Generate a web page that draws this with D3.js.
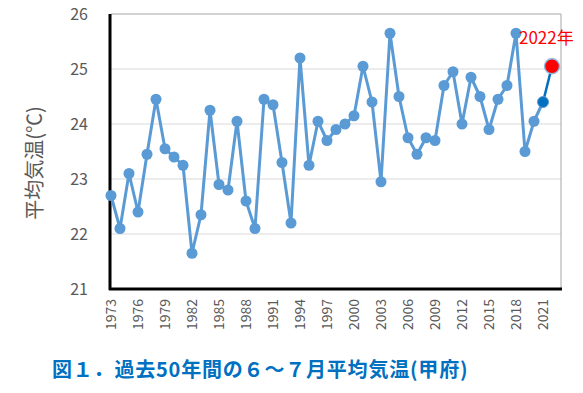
<!DOCTYPE html>
<html>
<head>
<meta charset="utf-8">
<script src="https://cdn.jsdelivr.net/npm/d3@7"></script>
<style>
  body { margin: 0; background: #fff; }
  text { font-family: "Noto Sans CJK JP", "Noto Sans", sans-serif; }
</style>
</head>
<body>
<script>
var width = 583;
var height = 393;

// 1973 - 2022, 6-7月平均気温 (甲府)
var years = d3.range(1973, 2023);
var temps = [
  22.7, 22.1, 23.1, 22.4, 23.45, 24.45, 23.55, 23.4, 23.25, 21.65,
  22.35, 24.25, 22.9, 22.8, 24.05, 22.6, 22.1, 24.45, 24.35, 23.3,
  22.2, 25.2, 23.25, 24.05, 23.7, 23.9, 24.0, 24.15, 25.05, 24.4,
  22.95, 25.65, 24.5, 23.75, 23.45, 23.75, 23.7, 24.7, 24.95, 24.0,
  24.85, 24.5, 23.9, 24.45, 24.7, 25.65, 23.5, 24.05, 24.4, 25.05
];
var tickYears = d3.range(1973, 2023, 3);
var yTicks = [21, 22, 23, 24, 25, 26];
var data = years.map(function (y, i) { return { year: y, temp: temps[i] }; });

var svg = d3.select('body')
    .append('svg')
    .attr('width', width)
    .attr('height', height);

var plotL = 111, plotR = 561, plotT = 14, plotB = 289;

var xScale = d3.scalePoint()
    .domain(d3.range(1973, 2024))
    .range([plotL, plotR]);

var yScale = d3.scaleLinear()
    .domain([21, 26])
    .range([plotB, plotT]);

// grid
svg.selectAll('.grid')
    .data(yTicks.slice(1, 5))
    .enter()
    .append('line')
    .attr('x1', plotL)
    .attr('x2', plotR)
    .attr('y1', function (d) { return yScale(d); })
    .attr('y2', function (d) { return yScale(d); })
    .attr('stroke', '#d9d9d9')
    .attr('stroke-width', 1);

// frame
svg.append('line').attr('x1', plotL).attr('x2', plotR)
    .attr('y1', plotT).attr('y2', plotT)
    .attr('stroke', '#a6a6a6').attr('stroke-width', 1);
svg.append('line').attr('x1', plotR).attr('x2', plotR)
    .attr('y1', plotT).attr('y2', plotB)
    .attr('stroke', '#a6a6a6').attr('stroke-width', 1);
svg.append('line').attr('x1', plotL - 1).attr('x2', plotL - 1)
    .attr('y1', plotT).attr('y2', plotB + 1)
    .attr('stroke', '#000').attr('stroke-width', 3);
svg.append('line').attr('x1', plotL - 2).attr('x2', plotR + 1)
    .attr('y1', plotB).attr('y2', plotB)
    .attr('stroke', '#000').attr('stroke-width', 3);

// y tick labels
svg.selectAll('.ylab')
    .data(yTicks)
    .enter()
    .append('text')
    .attr('x', 88)
    .attr('y', function (d) { return yScale(d) + 6; })
    .attr('text-anchor', 'end')
    .attr('font-size', 16)
    .attr('fill', '#595959')
    .text(function (d) { return d; });

// x tick labels
svg.selectAll('.xlab')
    .data(tickYears)
    .enter()
    .append('text')
    .attr('transform', function (d) {
        return 'translate(' + (xScale(d) + 5) + ',' + 299 + ') rotate(-90)';
    })
    .attr('text-anchor', 'end')
    .attr('font-size', 14)
    .attr('fill', '#595959')
    .text(function (d) { return d; });

// y axis title
svg.append('text')
    .attr('transform', 'translate(42,163) rotate(-90)')
    .attr('text-anchor', 'middle')
    .attr('font-size', 20)
    .attr('fill', '#595959')
    .text('平均気温(℃)');

var line = d3.line()
    .x(function (d) { return xScale(d.year); })
    .y(function (d) { return yScale(d.temp); });

svg.append('path')
    .datum(data.slice(0, 49))
    .attr('d', line)
    .attr('fill', 'none')
    .attr('stroke', '#5b9bd5')
    .attr('stroke-width', 3)
    .attr('stroke-linejoin', 'round');

svg.append('path')
    .datum(data.slice(48))
    .attr('d', line)
    .attr('fill', 'none')
    .attr('stroke', '#0070c0')
    .attr('stroke-width', 2.5);

svg.selectAll('.pt')
    .data(data.slice(0, 48))
    .enter()
    .append('circle')
    .attr('cx', function (d) { return xScale(d.year); })
    .attr('cy', function (d) { return yScale(d.temp); })
    .attr('r', 5.5)
    .attr('fill', '#5b9bd5');

var d2021 = data[48];
svg.append('circle')
    .attr('cx', xScale(d2021.year))
    .attr('cy', yScale(d2021.temp))
    .attr('r', 5.5)
    .attr('fill', '#0070c0')
    .attr('stroke', '#5b9bd5')
    .attr('stroke-width', 1);

var d2022 = data[49];
svg.append('circle')
    .attr('cx', xScale(d2022.year))
    .attr('cy', yScale(d2022.temp))
    .attr('r', 7.5)
    .attr('fill', '#ff0000')
    .attr('stroke', '#8fb8e0')
    .attr('stroke-width', 1.5);

svg.append('text')
    .attr('x', 519)
    .attr('y', 44)
    .attr('font-size', 17)
    .attr('fill', '#ff0000')
    .text('2022年');

// title
svg.append('text')
    .attr('x', 52)
    .attr('y', 377)
    .attr('font-size', 20)
    .attr('letter-spacing', 0.8)
    .attr('font-weight', 'bold')
    .attr('fill', '#0070c0')
    .text('図１．過去50年間の６～７月平均気温(甲府)');
</script>
</body>
</html>
